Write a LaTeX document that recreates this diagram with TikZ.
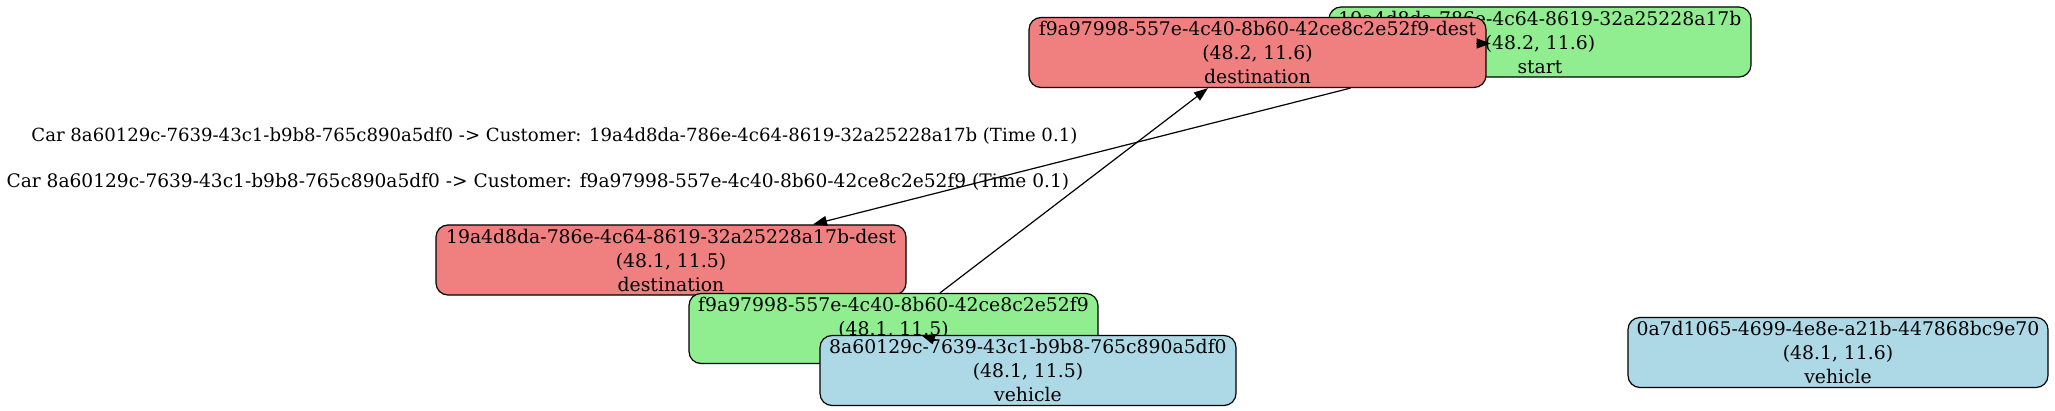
\documentclass[tikz,border=0pt]{standalone}
\usepackage{fontspec}
\setmainfont{DejaVu Serif}
\usetikzlibrary{arrows.meta,calc}
\definecolor{lgreen}{HTML}{90EE90}
\definecolor{lcoral}{HTML}{F08080}
\definecolor{lblue}{HTML}{ADD8E6}
\begin{document}
\begin{tikzpicture}[x=0.5pt,y=-0.5pt,
  box/.style={draw=black,line width=0.6pt,rounded corners=6pt,align=center,
    font=\fontsize{9.4}{12}\selectfont,inner sep=0pt,minimum height=35pt},
  conn/.style={draw=black,line width=0.6pt,-{Triangle[length=7pt,width=5pt]}},
  lbl/.style={font=\fontsize{9.4}{12}\selectfont,inner sep=0pt}]
\useasboundingbox (0,0) rectangle (2055,411);
\node[box,fill=lgreen,minimum width=211pt] (startB) at (1540,42)
  {19a4d8da-786e-4c64-8619-32a25228a17b\\(48.2, 11.6)\\start};
\node[box,fill=lcoral,minimum width=228.5pt] (destA) at (1257.5,52.5)
  {f9a97998-557e-4c40-8b60-42ce8c2e52f9-dest\\(48.2, 11.6)\\destination};
\node[box,fill=lcoral,minimum width=235pt] (destB) at (671,260)
  {19a4d8da-786e-4c64-8619-32a25228a17b-dest\\(48.1, 11.5)\\destination};
\node[box,fill=lgreen,minimum width=204.5pt] (startA) at (893.5,328.5)
  {f9a97998-557e-4c40-8b60-42ce8c2e52f9\\(48.1, 11.5)\\start};
\node[box,fill=lblue,minimum width=208pt] (carA) at (1028,370.5)
  {8a60129c-7639-43c1-b9b8-765c890a5df0\\(48.1, 11.5)\\vehicle};
\node[box,fill=lblue,minimum width=210pt] (carB) at (1838,352.5)
  {0a7d1065-4699-4e8e-a21b-447868bc9e70\\(48.1, 11.6)\\vehicle};
% connectors
\draw[conn] ([xshift=46.5pt]destA.south) -- ([xshift=71pt]destB.north);
\draw[conn] ([xshift=23.25pt]startA.north) -- ([xshift=-24.75pt]destA.south);
\draw[conn] ([xshift=-5.5pt,yshift=4.5pt]destA.east) -- ([xshift=2pt,yshift=4.5pt]destA.east);
\coordinate (e4tip) at (921,335);
\coordinate (e4base) at (936,340);
\draw[conn] (e4base) -- (e4tip);
% labels
\node[lbl,font=\fontsize{9.05}{12}\selectfont] (l1) at (554.5,136) {Car 8a60129c-7639-43c1-b9b8-765c890a5df0 -> Customer: 19a4d8da-786e-4c64-8619-32a25228a17b (Time 0.1)};
\node[lbl,font=\fontsize{9.3}{12}\selectfont] (l2) at (538,182) {Car 8a60129c-7639-43c1-b9b8-765c890a5df0 -> Customer: f9a97998-557e-4c40-8b60-42ce8c2e52f9 (Time 0.1)};
\end{tikzpicture}
\end{document}
